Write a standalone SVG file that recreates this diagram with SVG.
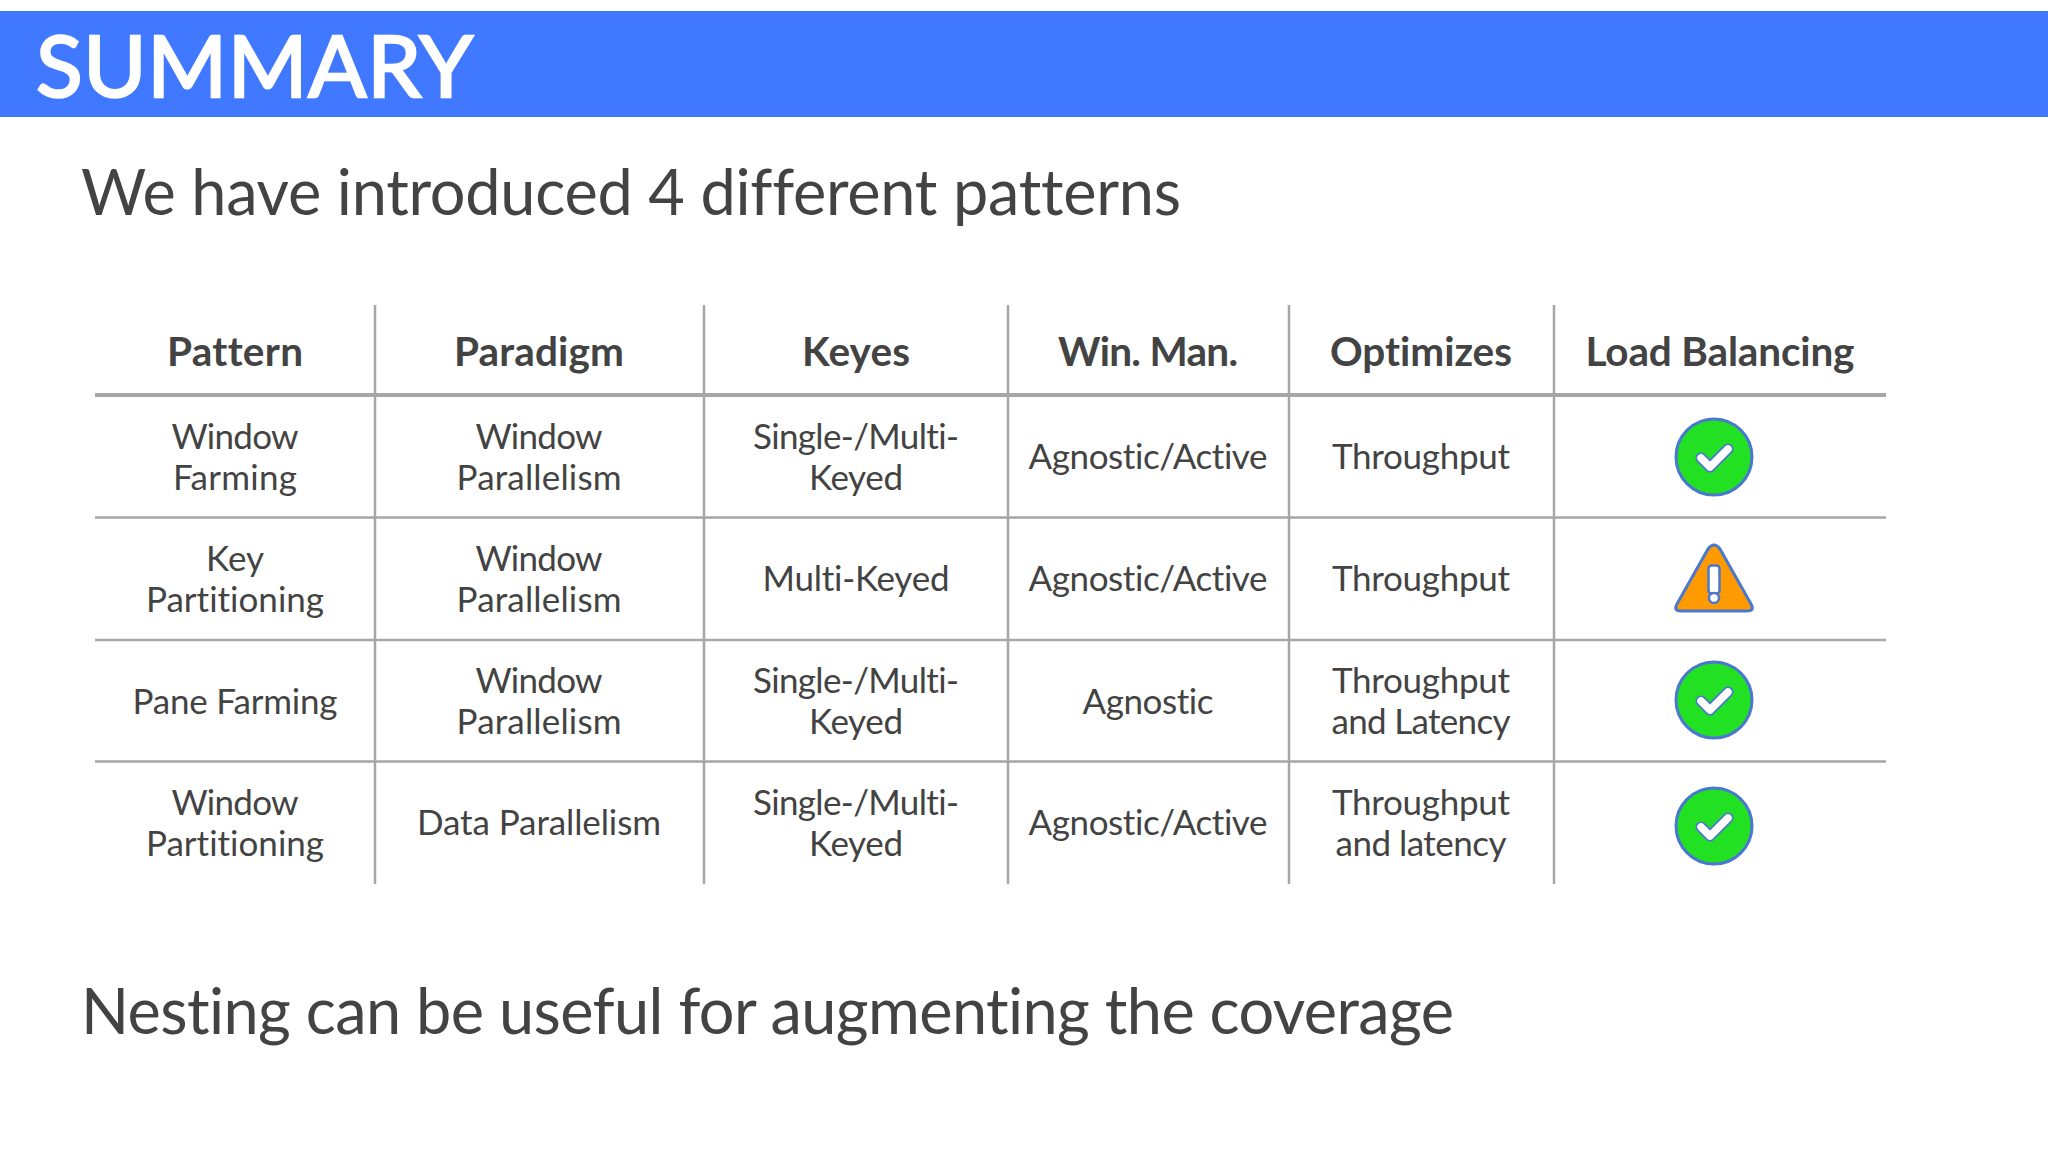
<svg xmlns="http://www.w3.org/2000/svg" width="2048" height="1152" viewBox="0 0 2048 1152">
<style>
text{font-family:Lato,"Liberation Sans",sans-serif;fill:#434343;text-anchor:middle;font-variant-ligatures:none}
.h{font-size:40.500px;font-weight:700}
.c{font-size:35px}
.big{font-size:63px;text-anchor:start}
.v{stroke:#a6a6a6;stroke-width:2.5;fill:none}
.t{stroke:#a6a6a6;stroke-width:4;fill:none}
.ok{fill:#22e022;stroke:#4a78d0;stroke-width:3}
.ck{fill:none;stroke:#4a78d0;stroke-width:11;stroke-linecap:round;stroke-linejoin:round}
.ckw{fill:none;stroke:#fff;stroke-width:7.500;stroke-linecap:round;stroke-linejoin:round}
</style>
<defs>
<g id="check"><circle r="38" class="ok"/><path class="ck" d="M-13 1L-4 10L14 -8"/><path class="ckw" d="M-13 1L-4 10L14 -8"/></g>
</defs>
<rect width="2048" height="1152" fill="#fff"/>
<g id="banner"><rect x="0" y="11" width="2048" height="106" fill="#4079ff"/>
<text x="36" y="97" textLength="437" style="fill:#fff;stroke:#fff;stroke-width:2.5;text-anchor:start;font-size:86px">SUMMARY</text></g>
<text id="subtitle" class="big" x="81" y="215" textLength="1100">We have introduced 4 different patterns</text>
<g id="grid">
<path class="t" d="M95 395H1886"/>
<path class="v" d="M95 517.500H1886M95 640H1886M95 761.500H1886M375 305V884M704 305V884M1008 305V884M1289 305V884M1554 305V884"/>
</g>
<g id="header" class="h">
<text class="h" x="235" y="365.500" textLength="136">Pattern</text>
<text class="h" x="539" y="365.500" textLength="170">Paradigm</text>
<text class="h" x="856" y="365.500" textLength="108">Keyes</text>
<text class="h" x="1148" y="365.500" textLength="180">Win. Man.</text>
<text class="h" x="1421" y="365.500" textLength="182">Optimizes</text>
<text class="h" x="1720" y="365.500" textLength="269">Load Balancing</text>
</g>
<g id="row1">
<text class="c" x="235" y="449" textLength="127">Window</text><text class="c" x="235" y="490" textLength="124">Farming</text>
<text class="c" x="539" y="449" textLength="127">Window</text><text class="c" x="539" y="490" textLength="165">Parallelism</text>
<text class="c" x="856" y="449" textLength="206">Single-/Multi-</text><text class="c" x="856" y="490" textLength="94">Keyed</text>
<text class="c" x="1148" y="469" textLength="239">Agnostic/Active</text>
<text class="c" x="1421" y="469" textLength="178">Throughput</text>
<use href="#check" x="1714" y="457"/>
</g>
<g id="row2">
<text class="c" x="235" y="571" textLength="58">Key</text><text class="c" x="235" y="612" textLength="178">Partitioning</text>
<text class="c" x="539" y="571" textLength="127">Window</text><text class="c" x="539" y="612" textLength="165">Parallelism</text>
<text class="c" x="856" y="591" textLength="187">Multi-Keyed</text>
<text class="c" x="1148" y="591" textLength="239">Agnostic/Active</text>
<text class="c" x="1421" y="591" textLength="178">Throughput</text>
<path d="M1708 549Q1714 541 1720 549L1751 604Q1755 611 1747 611H1681Q1673 611 1677 604Z" fill="#ff9a00" stroke="#4a78d0" stroke-width="3" stroke-linejoin="round"/>
<rect x="1708.500" y="565.500" width="11" height="28" rx="3" fill="#fff" stroke="#4a78d0" stroke-width="2.500"/>
<circle cx="1714" cy="598" r="5" fill="#fff" stroke="#4a78d0" stroke-width="2.500"/>
</g>
<g id="row3">
<text class="c" x="235" y="714" textLength="205">Pane Farming</text>
<text class="c" x="539" y="693" textLength="127">Window</text><text class="c" x="539" y="734" textLength="165">Parallelism</text>
<text class="c" x="856" y="693" textLength="206">Single-/Multi-</text><text class="c" x="856" y="734" textLength="94">Keyed</text>
<text class="c" x="1148" y="714" textLength="131">Agnostic</text>
<text class="c" x="1421" y="693" textLength="178">Throughput</text><text class="c" x="1421" y="734" textLength="179">and Latency</text>
<use href="#check" x="1714" y="700"/>
</g>
<g id="row4">
<text class="c" x="235" y="815" textLength="127">Window</text><text class="c" x="235" y="856" textLength="178">Partitioning</text>
<text class="c" x="539" y="835" textLength="244">Data Parallelism</text>
<text class="c" x="856" y="815" textLength="206">Single-/Multi-</text><text class="c" x="856" y="856" textLength="94">Keyed</text>
<text class="c" x="1148" y="835" textLength="239">Agnostic/Active</text>
<text class="c" x="1421" y="815" textLength="178">Throughput</text><text class="c" x="1421" y="856" textLength="171">and latency</text>
<use href="#check" x="1714" y="826"/>
</g>
<text id="footer" class="big" x="81" y="1034" textLength="1373">Nesting can be useful for augmenting the coverage</text>
</svg>
